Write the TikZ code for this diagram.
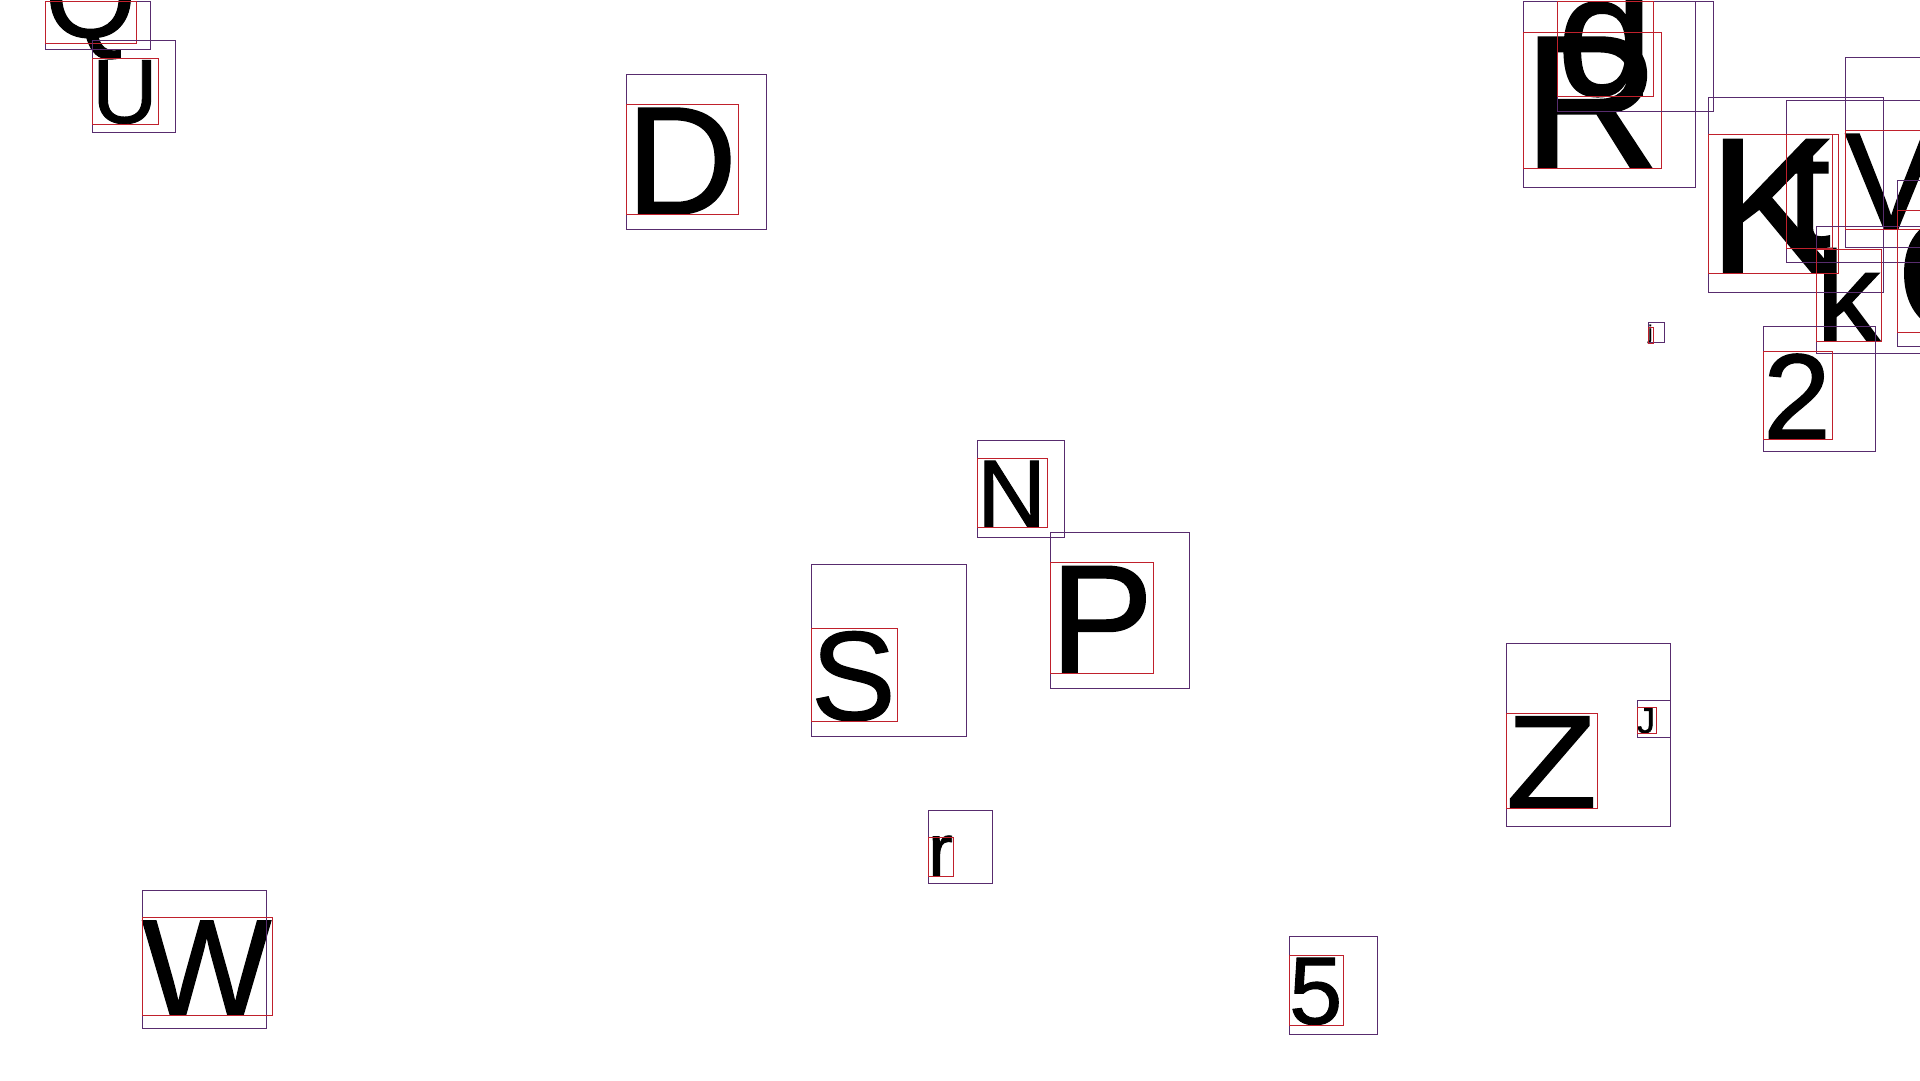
\documentclass[tikz,border=0pt]{standalone}
\usepackage{fontspec}
\setmainfont{Liberation Sans}
\newfontfamily\glyphfont{Liberation Sans}[FakeBold=1]
\definecolor{boxpurple}{RGB}{88,44,110}
\definecolor{boxred}{RGB}{192,32,44}
\newcommand\glyphsize[1]{\glyphfont\fontsize{#1}{#1}\selectfont}
\tikzset{
	letter/.style={anchor=base west, inner sep=0pt, outer sep=0pt},
	outerbox/.style={draw=boxpurple, line width=1pt},
	inkbox/.style={draw=boxred, line width=1pt},
}

\begin{document}
\begin{tikzpicture}[x=1pt, y=-1pt]
		\useasboundingbox (0,0) rectangle (1920,1080);
		\node (gQ) [letter, font=\glyphsize{117}] at (45,37) {Q};
		\node (gU) [letter, font=\glyphsize{91}] at (92,123) {U};
		\node (gD) [letter, font=\glyphsize{154}] at (626,214) {D};
		\node (gN) [letter, font=\glyphsize{96}] at (977,527) {N};
		\node (gP) [letter, font=\glyphsize{155}] at (1050,673) {P};
		\node (gS) [letter, font=\glyphsize{127}] at (811,720) {S};
		\node (gr) [letter, font=\glyphsize{75}] at (928,876) {r};
		\node (gW) [letter, font=\glyphsize{137}] at (142,1015) {W};
		\node (g5) [letter, font=\glyphsize{96}] at (1289,1024) {5};
		\node (gZ) [letter, font=\glyphsize{133}] at (1506,808) {\scalebox{1.12}[1]{Z}};
		\node (gJ) [letter, font=\glyphsize{36}] at (1637,733) {J};
		\node (gR) [letter, font=\glyphsize{190}] at (1523,168) {R};
		\node (gd) [letter, font=\glyphsize{173}] at (1557,95) {d};
		\node (gK) [letter, font=\glyphsize{194}] at (1708,273) {K};
		\node (gt) [letter, font=\glyphsize{160}] at (1786,247) {t};
		\node (gV) [letter, font=\glyphsize{138}] at (1845,229) {V};
		\node (gk) [letter, font=\glyphsize{128}] at (1816,341) {k};
		\node (g2) [letter, font=\glyphsize{122}] at (1763,439) {2};
		\node (gj) [letter, font=\glyphsize{20}] at (1648,339) {j};
		\node (gO) [letter, font=\glyphsize{166}] at (1897,331) {O};

		\draw[outerbox] (45,1) rectangle (150,49);
		\draw[inkbox] (45,1) rectangle (136,43);
		\draw[outerbox] (92,40) rectangle (175,132);
		\draw[inkbox] (92,58) rectangle (158,124);
		\draw[outerbox] (626,74) rectangle (766,229);
		\draw[inkbox] (626,104) rectangle (738,214);
		\draw[outerbox] (977,440) rectangle (1064,537);
		\draw[inkbox] (977,458) rectangle (1047,527);
		\draw[outerbox] (1050,532) rectangle (1189,688);
		\draw[inkbox] (1050,562) rectangle (1153,673);
		\draw[outerbox] (811,564) rectangle (966,736);
		\draw[inkbox] (811,628) rectangle (897,721);
		\draw[outerbox] (928,810) rectangle (992,883);
		\draw[inkbox] (928,837) rectangle (953,876);
		\draw[outerbox] (142,890) rectangle (266,1028);
		\draw[inkbox] (142,917) rectangle (272,1015);
		\draw[outerbox] (1289,936) rectangle (1377,1034);
		\draw[inkbox] (1289,955) rectangle (1343,1025);
		\draw[outerbox] (1506,643) rectangle (1670,826);
		\draw[inkbox] (1506,713) rectangle (1597,808);
		\draw[outerbox] (1637,700) rectangle (1670,737);
		\draw[inkbox] (1637,707) rectangle (1656,733);
		\draw[outerbox] (1523,1) rectangle (1695,187);
		\draw[inkbox] (1523,32) rectangle (1661,168);
		\draw[outerbox] (1557,1) rectangle (1713,111);
		\draw[inkbox] (1557,1) rectangle (1653,96);
		\draw[outerbox] (1708,97) rectangle (1883,292);
		\draw[inkbox] (1708,134) rectangle (1838,273);
		\draw[outerbox] (1786,100) rectangle (1936,262);
		\draw[inkbox] (1786,134) rectangle (1832,248);
		\draw[outerbox] (1845,57) rectangle (1972,247);
		\draw[inkbox] (1845,130) rectangle (1937,229);
		\draw[outerbox] (1816,226) rectangle (1931,353);
		\draw[inkbox] (1816,249) rectangle (1881,341);
		\draw[outerbox] (1763,326) rectangle (1875,451);
		\draw[inkbox] (1763,351) rectangle (1832,439);
		\draw[outerbox] (1648,322) rectangle (1664,342);
		\draw[inkbox] (1648,327) rectangle (1653,343);
		\draw[outerbox] (1897,180) rectangle (2047,346);
		\draw[inkbox] (1897,210) rectangle (2026,332);
\end{tikzpicture}
\end{document}
